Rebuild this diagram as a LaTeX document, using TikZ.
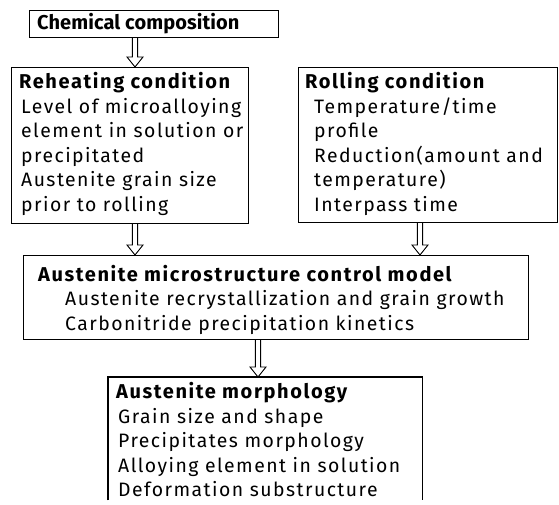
\documentclass[tikz,border=0pt]{standalone}
\usepackage{fontspec}
\setmainfont{Fira Sans}[LetterSpace=7.5]
\usetikzlibrary{calc}
\newcommand\stack[1]{\begin{tabular}[t]{@{}l@{}}#1\end{tabular}}
\newcommand\ind[1]{\hspace*{#1pt}}
\newcommand\head[1]{{\fontsize{20}{24.5}\selectfont\bfseries\addfontfeature{LetterSpace=8}#1}}
\tikzset{
  frame/.style={draw, line width=1.1pt, inner sep=0pt, anchor=north west},
  words/.style={inner sep=0pt, anchor=base west, font=\fontsize{19.4}{24.5}\selectfont},
  hollow/.style={line width=0.9pt, fill=white, to path={
    let \p1=(\tikztostart), \p2=(\tikztotarget) in
    (\x1-2.6pt,\y1) -- (\x1-2.6pt,\y2+10pt) -- (\x1-8pt,\y2+10pt) -- (\x2,\y2)
    -- (\x1+8pt,\y2+10pt) -- (\x1+2.6pt,\y2+10pt) -- (\x1+2.6pt,\y1)}}
}
\begin{document}
\begin{tikzpicture}[x=1pt, y=-1pt]
\useasboundingbox (0,0) rectangle (559,505);

% boxes
\node[frame, minimum width=249pt, minimum height=27pt] (chem) at (29,10) {};
\node[frame, minimum width=237pt, minimum height=156pt] (reheat) at (11,67) {};
\node[frame, minimum width=259pt, minimum height=155pt] (rolling) at (298,67) {};
\node[frame, minimum width=505pt, minimum height=84pt] (model) at (23,255) {};
\node[inner sep=0pt, anchor=north west, minimum width=314pt, minimum height=123pt] (morph) at (108,377) {};
\draw[line width=1.1pt] (morph.south west) -- (morph.north west) -- (morph.north east) -- (morph.south east);

% texts
\node[words] (chemT) at (37,29.5) {\head{\addfontfeature{LetterSpace=0.5}Chemical composition}};
\node[words] (reheatT) at (19,89) {\stack{\head{Reheating condition}\\
  \ind{2}Level of microalloying\\
  \ind{2}element in solution or\\
  \ind{2}precipitated\\
  \ind{2}Austenite grain size\\
  \ind{2}prior to rolling}};
\node[words] (rollingT) at (305,89) {\stack{\head{Rolling condition}\\
  \ind{9}Temperature/time\\
  \ind{9}profile\\
  \ind{9}Reduction(amount and\\
  \ind{9}temperature)\\
  \ind{9}Interpass time}};
\node[words] (modelT) at (38,281) {\stack{\head{Austenite microstructure control model}\\
  \ind{27}Austenite recrystallization and grain growth\\
  \ind{27}Carbonitride precipitation kinetics}};
\node[words] (morphT) at (116,398.5) {\stack{\head{Austenite morphology}\\
  \ind{2}Grain size and shape\\
  \ind{2}Precipitates morphology\\
  \ind{2}Alloying element in solution\\
  \ind{2}Deformation substructure}};

% arrow positions
\coordinate (xa) at (135,0);
\coordinate (xb) at (420,0);
\coordinate (xc) at (258,0);

% connectors
\draw[hollow] (chem.south -| xa) to (reheat.north -| xa);
\draw[hollow] (reheat.south -| xa) to (model.north -| xa);
\draw[hollow] (rolling.south -| xb) to (model.north -| xb);
\draw[hollow] (model.south -| xc) to (morph.north -| xc);
\end{tikzpicture}
\end{document}
